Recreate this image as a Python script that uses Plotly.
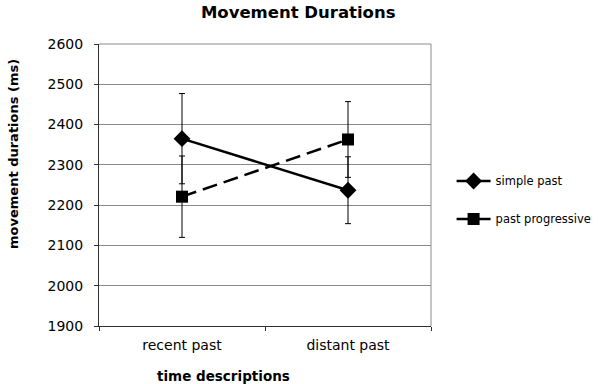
import plotly.graph_objects as go

categories = ["recent past", "distant past"]
simple_past = [2365, 2237]
simple_past_err = [112, 83]
past_progressive = [2221, 2363]
past_progressive_err = [101, 94]

FONT = "DejaVu Sans"

fig = go.Figure()
fig.add_trace(go.Scatter(
    x=categories, y=simple_past, name="simple past", mode="lines+markers",
    line=dict(color="black", width=2.5),
    marker=dict(symbol="diamond", size=13, color="black"),
    error_y=dict(type="data", array=simple_past_err, color="black", thickness=1, width=3),
    legendgroup="a",
))
fig.add_trace(go.Scatter(
    x=categories, y=past_progressive, name="past progressive", mode="lines+markers",
    line=dict(color="black", width=2.5, dash="15px,7px"),
    marker=dict(symbol="square", size=12, color="black"),
    error_y=dict(type="data", array=past_progressive_err, color="black", thickness=1, width=3),
    legendgroup="b",
))

fig.update_layout(
    width=600, height=384,
    margin=dict(l=99, r=169, t=44, b=58, autoexpand=False),
    paper_bgcolor="white", plot_bgcolor="white",
    font=dict(family=FONT, size=12, color="black"),
    title=dict(text="<b>Movement Durations</b>", x=0.497, xref="container", xanchor="center",
               y=0.969, yref="container", yanchor="middle", font=dict(size=16.5, family=FONT)),
    legend=dict(x=1.062, xanchor="left", y=0.447, yanchor="middle",
                font=dict(size=11.5, family=FONT), tracegroupgap=19,
                traceorder="grouped", bgcolor="rgba(0,0,0,0)", itemwidth=34),
    showlegend=True,
)
fig.update_xaxes(
    type="category", range=[-0.5, 1.5], showgrid=False, automargin=False,
    showline=True, linecolor="#303030", linewidth=1,
    ticks="outside", ticklen=4, tickcolor="#303030", tickson="boundaries",
    tickfont=dict(size=14, family=FONT), ticklabelstandoff=6,
)
fig.update_yaxes(
    range=[1900, 2600], dtick=100, showgrid=True, gridcolor="#8a8a8a", gridwidth=1,
    showline=True, linecolor="#303030", linewidth=1, automargin=False,
    ticks="outside", ticklen=4, tickcolor="#303030",
    tickfont=dict(size=14, family=FONT), zeroline=False, ticklabelstandoff=8,
)
fig.add_annotation(text="<b>time descriptions</b>", xref="paper", yref="paper",
                   x=0.3765, y=-0.177, showarrow=False, xanchor="center", yanchor="middle",
                   font=dict(size=13.5, family=FONT))
fig.add_annotation(text="<b>movement durations (ms)</b>", xref="paper", yref="paper",
                   x=-0.256, y=0.61, showarrow=False, xanchor="center", yanchor="middle",
                   textangle=-90, font=dict(size=13, family=FONT))
fig.add_shape(type="line", xref="paper", yref="paper", x0=1, x1=1, y0=0, y1=1,
              line=dict(color="#8a8a8a", width=1))
fig.add_shape(type="line", xref="paper", yref="paper", x0=0, x1=1, y0=1, y1=1,
              line=dict(color="#8a8a8a", width=1))

fig.write_html("out.html", config={"displayModeBar": False},
               post_script="document.body.style.margin='0';")
